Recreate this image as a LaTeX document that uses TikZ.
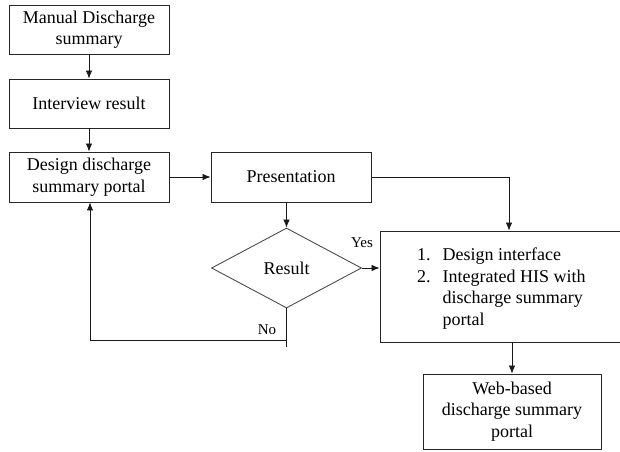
\documentclass[tikz,border=0pt]{standalone}
\usepackage{fontspec}
\setmainfont{Liberation Serif}
\usetikzlibrary{shapes.geometric,arrows.meta}
\begin{document}
\begin{tikzpicture}[x=1pt,y=-1pt,
  every node/.style={font=\fontsize{18}{21.5}\selectfont},
  box/.style={draw=black!85,line width=0.9pt,rectangle,inner sep=0pt,align=center},
  dec/.style={draw=black!70,line width=0.9pt,diamond,inner sep=0pt,minimum width=150pt,minimum height=80pt},
  conn/.style={draw=black!90,line width=0.8pt},
  arr/.style={conn,-{Latex[length=8pt,width=6.5pt]}},
  lab/.style={font=\fontsize{15}{17}\selectfont}]
\useasboundingbox (0,0) rectangle (620,451);
\node[box,minimum width=160pt,minimum height=49pt] (b1) at (89,29.5) {Manual Discharge\\summary};
\node[box,minimum width=160pt,minimum height=49pt] (b2) at (89,103.5) {Interview result};
\node[box,minimum width=160pt,minimum height=50pt] (b3) at (89,177) {Design discharge\\summary portal};
\node[box,minimum width=160pt,minimum height=50pt] (pres) at (291,177) {Presentation};
\node[dec] (res) at (286.5,268) {Result};
\node[box,minimum width=244pt,minimum height=111pt] (impl) at (502,286.5) {};
\node[anchor=north west,inner sep=0pt,align=left] (list) at (417,245.5)
  {\begin{tabular}{@{}r@{\hspace{12pt}}l@{}}1. & Design interface\\ 2. & Integrated HIS with\\ & discharge summary\\ & portal\end{tabular}};
\node[box,minimum width=178pt,minimum height=75pt] (web) at (512,411.5) {Web-based\\discharge summary\\portal};
\coordinate (turn) at (509,177);
\coordinate (nodown) at (286.5,347);
\coordinate (noA) at (286.5,340);
\coordinate (noB) at (90,340);
\draw[arr] (b1.south) -- (b2.north);
\draw[arr] (b2.south) -- (b3.north);
\draw[arr] (b3.east) -- (pres.west);
\draw[arr] (pres.south -| res.north) -- (res.north);
\draw[arr] (pres.east) -- (turn) -- (turn |- impl.north);
\draw[arr] (res.east) -- (impl.west |- res.east);
\draw[conn] (res.south) -- (nodown);
\draw[arr] (noA) -- (noB) -- (noB |- b3.south);
\draw[arr] (web.north |- impl.south) -- (web.north);
\node[lab] (yes) at (362,243) {Yes};
\node[lab] (no) at (267,330) {No};
\end{tikzpicture}
\end{document}
